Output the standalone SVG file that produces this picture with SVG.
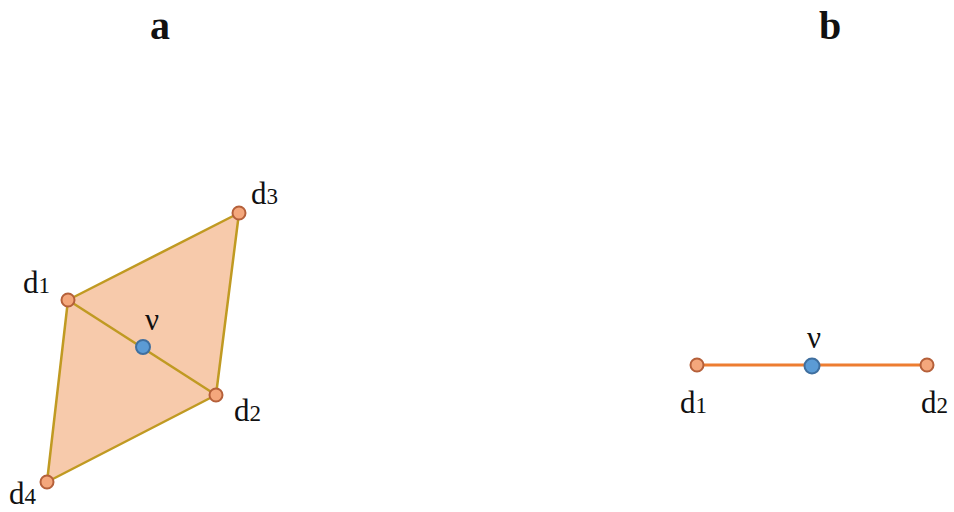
<svg xmlns="http://www.w3.org/2000/svg" width="954" height="512" viewBox="0 0 954 512">
<style>
.t{font-family:"Liberation Serif","Times New Roman",serif;font-size:31px;fill:#111}
.s{font-size:23px}
.h{font-family:"Liberation Serif","Times New Roman",serif;font-size:40px;font-weight:bold;fill:#111}
.p{fill:#f4a77c;stroke:#b5603a;stroke-width:2}
.v{fill:#5b9bd5;stroke:#3f6f9f;stroke-width:2}
</style>
<rect width="954" height="512" fill="#fff"/>
<text class="h" x="160" y="39" text-anchor="middle">a</text>
<text class="h" x="830" y="39" text-anchor="middle">b</text>
<g id="connectors">
<polygon points="68,300 239,213 216,395 47,482" fill="#f7caab" stroke="#c09a22" stroke-width="2.5" stroke-linejoin="round"/>
<line x1="68" y1="300" x2="216" y2="395" stroke="#c09a22" stroke-width="2.5"/>
<line x1="697" y1="365" x2="927" y2="365" stroke="#ed7d31" stroke-width="3"/>
</g>
<g id="a-d1"><circle class="p" cx="68" cy="300" r="6.5"/><text class="t" x="23" y="293">d<tspan class="s">1</tspan></text></g>
<g id="a-d3"><circle class="p" cx="239" cy="213" r="6.5"/><text class="t" x="251" y="204">d<tspan class="s">3</tspan></text></g>
<g id="a-d2"><circle class="p" cx="216" cy="395" r="6.5"/><text class="t" x="234" y="421">d<tspan class="s">2</tspan></text></g>
<g id="a-d4"><circle class="p" cx="47" cy="482" r="6.5"/><text class="t" x="9" y="504">d<tspan class="s">4</tspan></text></g>
<g id="a-v"><circle class="v" cx="143" cy="347" r="7"/><text class="t" x="152" y="330" text-anchor="middle">ν</text></g>
<g id="b-d1"><circle class="p" cx="697" cy="365" r="6.5"/><text class="t" x="680" y="413">d<tspan class="s">1</tspan></text></g>
<g id="b-d2"><circle class="p" cx="927" cy="365" r="6.5"/><text class="t" x="921" y="413">d<tspan class="s">2</tspan></text></g>
<g id="b-v"><circle class="v" cx="812" cy="366" r="7.5"/><text class="t" x="814" y="348" text-anchor="middle">ν</text></g>
</svg>
